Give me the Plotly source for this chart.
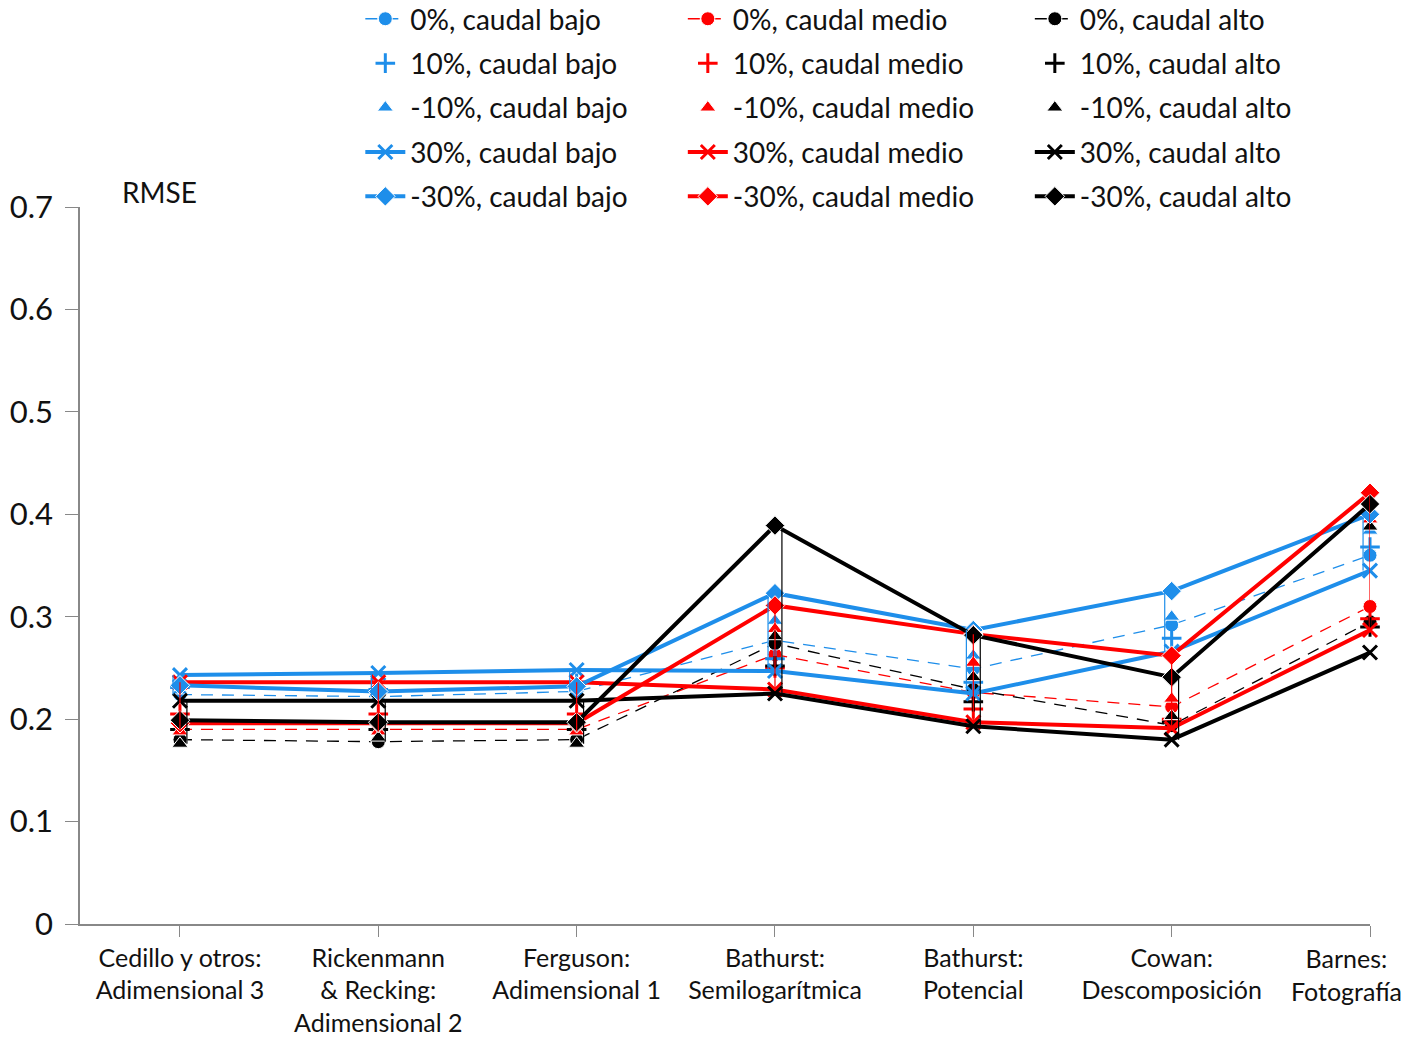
import plotly.graph_objects as go

# Methods (x-axis categories)
categories = [
    "Cedillo y otros:<br>Adimensional 3",
    "Rickenmann<br>& Recking:<br>Adimensional 2",
    "Ferguson:<br>Adimensional 1",
    "Bathurst:<br>Semilogarítmica",
    "Bathurst:<br>Potencial",
    "Cowan:<br>Descomposición",
    "Barnes:<br>Fotografía",
]

scenario_labels = ["0%", "10%", "-10%", "30%", "-30%"]
caudal_labels = ["caudal bajo", "caudal medio", "caudal alto"]

# RMSE per scenario, caudal bajo
bajo_0 = [0.224, 0.222, 0.227, 0.277, 0.249, 0.292, 0.360]
bajo_p10 = [0.231, 0.229, 0.235, 0.259, 0.236, 0.279, 0.368]
bajo_m10 = [0.228, 0.225, 0.230, 0.296, 0.262, 0.300, 0.384]
bajo_p30 = [0.243, 0.245, 0.248, 0.247, 0.225, 0.266, 0.345]
bajo_m30 = [0.233, 0.227, 0.232, 0.323, 0.287, 0.325, 0.400]

# RMSE per scenario, caudal medio
medio_0 = [0.190, 0.190, 0.190, 0.263, 0.226, 0.212, 0.310]
medio_p10 = [0.205, 0.205, 0.205, 0.250, 0.210, 0.200, 0.298]
medio_m10 = [0.188, 0.188, 0.188, 0.288, 0.255, 0.220, 0.395]
medio_p30 = [0.236, 0.236, 0.236, 0.229, 0.197, 0.191, 0.287]
medio_m30 = [0.196, 0.196, 0.196, 0.311, 0.283, 0.262, 0.421]

# RMSE per scenario, caudal alto
alto_0 = [0.180, 0.178, 0.180, 0.274, 0.229, 0.194, 0.295]
alto_p10 = [0.190, 0.190, 0.190, 0.252, 0.217, 0.197, 0.290]
alto_m10 = [0.176, 0.182, 0.176, 0.281, 0.241, 0.203, 0.388]
alto_p30 = [0.218, 0.218, 0.218, 0.225, 0.193, 0.180, 0.265]
alto_m30 = [0.199, 0.197, 0.197, 0.389, 0.282, 0.241, 0.410]

groups = [
    [bajo_0, bajo_p10, bajo_m10, bajo_p30, bajo_m30],
    [medio_0, medio_p10, medio_m10, medio_p30, medio_m30],
    [alto_0, alto_p10, alto_m10, alto_p30, alto_m30],
]
colors = ["#1E8EEA", "#FF0000", "#000000"]
legend_ids = ["legend", "legend2", "legend3"]
hilo_offsets = [-0.035, 0.0, 0.035]

FONT = "Lato"
TEXT = "#111111"
x = list(range(len(categories)))

fig = go.Figure()


def style_for(scen, color):
    """Line/marker style of each flow-change scenario."""
    if scen == 0:
        return dict(mode="lines+markers",
                    line=dict(color=color, width=1.3, dash="12px,9px"),
                    marker=dict(symbol="circle", size=14, color=color,
                                line=dict(color="white", width=1)))
    if scen == 1:
        return dict(mode="markers",
                    marker=dict(symbol="cross-thin", size=14, color=color,
                                line=dict(color=color, width=3)))
    if scen == 2:
        return dict(mode="markers",
                    marker=dict(symbol="triangle-up", size=14, color=color,
                                line=dict(color="white", width=1)))
    if scen == 3:
        return dict(mode="lines+markers",
                    line=dict(color=color, width=4),
                    marker=dict(symbol="x-thin", size=14, color=color,
                                line=dict(color=color, width=3)))
    return dict(mode="lines+markers",
                line=dict(color=color, width=4),
                marker=dict(symbol="diamond", size=15, color=color,
                            line=dict(color="white", width=1)))


# series drawn in legend order: scenario by scenario, bajo/medio/alto
for s, scen in enumerate(scenario_labels):
    for c, caudal in enumerate(caudal_labels):
        fig.add_trace(go.Scatter(
            x=x, y=groups[c][s],
            name=f"{scen}, {caudal}",
            legend=legend_ids[c],
            legendgroup=f"{scen}-{caudal}",
            cliponaxis=False,
            **style_for(s, colors[c]),
        ))

# high-low lines joining the extreme scenarios of each flow level
for c in range(3):
    hx, hy = [], []
    for i in x:
        vals = [series[i] for series in groups[c]]
        hx += [i + hilo_offsets[c], i + hilo_offsets[c], None]
        hy += [min(vals), max(vals), None]
    fig.add_trace(go.Scatter(
        x=hx, y=hy, mode="lines", showlegend=False, hoverinfo="skip",
        line=dict(color=colors[c], width=1.2), cliponaxis=False,
    ))

legend_common = dict(
    orientation="v", yanchor="top", xanchor="left",
    font=dict(family=FONT, size=28, color=TEXT),
    bgcolor="rgba(0,0,0,0)", tracegroupgap=5, itemwidth=40,
)
LEG_Y = 1.297

# the last category sits on the right edge of the axis, so its label is
# written as an annotation nudged inwards instead of a centred tick label
tick_text = categories[:-1] + [""]

fig.update_layout(
    width=1424, height=1038,
    margin=dict(l=80, r=54, t=207, b=114, autoexpand=False),
    paper_bgcolor="white", plot_bgcolor="white",
    font=dict(family=FONT, color=TEXT),
    legend=dict(x=0.2173, y=LEG_Y, **legend_common),
    legend2=dict(x=0.4673, y=LEG_Y, **legend_common),
    legend3=dict(x=0.7363, y=LEG_Y, **legend_common),
    xaxis=dict(
        range=[-0.504, 6], tickvals=x, ticktext=tick_text,
        showline=True, linecolor="#888888", linewidth=1.5,
        ticks="outside", ticklen=11, tickcolor="#888888",
        showgrid=False, zeroline=False,
        tickfont=dict(family=FONT, size=25, color=TEXT),
    ),
    yaxis=dict(
        range=[0, 0.7], tickvals=[0, 0.1, 0.2, 0.3, 0.4, 0.5, 0.6, 0.7],
        ticktext=["0", "0.1", "0.2", "0.3", "0.4", "0.5", "0.6", "0.7"],
        showline=True, linecolor="#888888", linewidth=1.5,
        ticks="outside", ticklen=13, tickcolor="#888888",
        showgrid=False, zeroline=False, ticklabelstandoff=6,
        tickfont=dict(family=FONT, size=31, color=TEXT),
    ),
    annotations=[
        dict(text="RMSE", xref="paper", yref="paper", x=0.031, y=1.021,
             xanchor="left", yanchor="middle", showarrow=False,
             font=dict(family=FONT, size=28, color=TEXT)),
        dict(text=categories[-1], xref="x", yref="paper", x=x[-1], y=0,
             xanchor="center", yanchor="top", xshift=-24, yshift=-17,
             showarrow=False, align="center",
             font=dict(family=FONT, size=25, color=TEXT)),
    ],
)

fig.write_html("out.html")
